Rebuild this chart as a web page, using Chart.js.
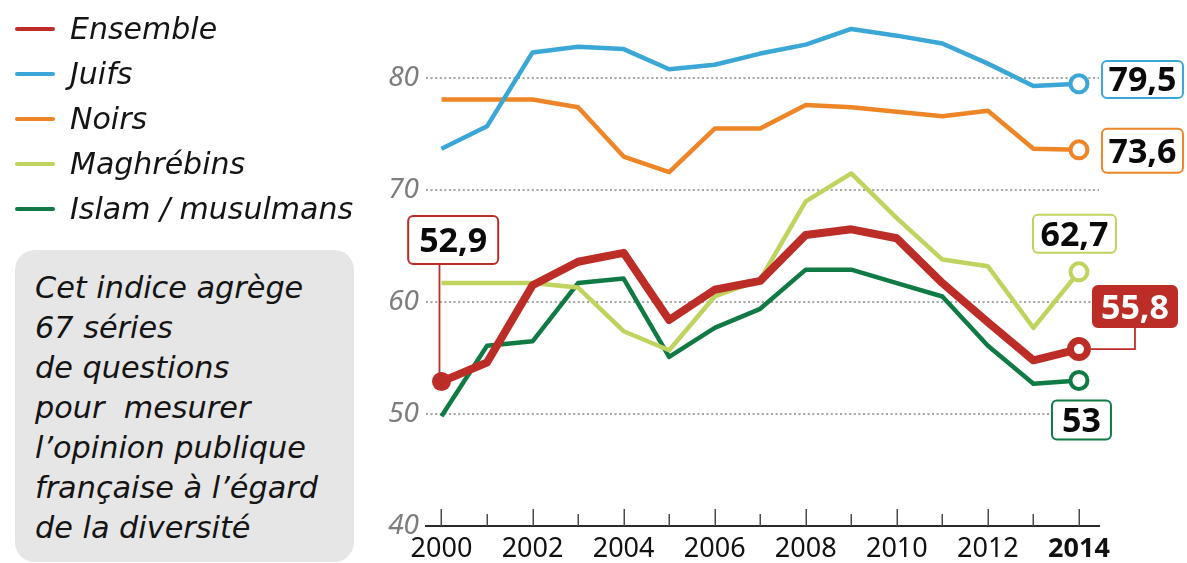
<!DOCTYPE html>
<html>
<head>
<meta charset="utf-8">
<script src="https://cdn.jsdelivr.net/npm/chart.js@4.4.1/dist/chart.umd.min.js"></script>
<style>
  html, body { margin: 0; padding: 0; background: #ffffff; }
  #wrap { position: relative; width: 1187px; height: 563px; overflow: hidden; }
  #chart { position: absolute; left: 0; top: 0; }
  .legtxt { position: absolute; left: 70px; height: 40px; line-height: 40px; font-family: 'DejaVu Sans', sans-serif; font-style: italic; font-size: 30px; color: #141414; white-space: nowrap; }
  .legline { position: absolute; left: 15px; width: 40px; height: 4px; border-radius: 2px; }
  #note { position: absolute; left: 15px; top: 250px; width: 339px; height: 312px; border-radius: 20px; background: #e6e6e6; box-sizing: border-box; padding: 18px 0 0 20px; font-family: 'DejaVu Sans', sans-serif; font-style: italic; font-size: 30.3px; line-height: 40px; color: #141414; white-space: pre; }
</style>
</head>
<body>
<div id="wrap">
  <canvas id="chart" width="1187" height="563"></canvas>
  <div id="legend"></div>
  <div id="note"></div>
</div>
<script>
// ---------- DATA ----------
const years = [2000, 2001, 2002, 2003, 2004, 2005, 2006, 2007, 2008, 2009, 2010, 2011, 2012, 2013, 2014];
const ensemble   = [52.9, 54.6, 61.5, 63.6, 64.4, 58.4, 61.1, 61.9, 66.0, 66.5, 65.7, 61.7, 58.2, 54.8, 55.8];
const juifs      = [73.7, 75.7, 82.3, 82.8, 82.6, 80.8, 81.2, 82.2, 83.0, 84.4, 83.8, 83.1, 81.3, 79.3, 79.5];
const noirs      = [78.1, 78.1, 78.1, 77.4, 73.0, 71.6, 75.5, 75.5, 77.6, 77.4, 77.0, 76.6, 77.1, 73.7, 73.6];
const maghrebins = [61.7, 61.7, 61.7, 61.3, 57.4, 55.7, 60.5, 62.0, 69.0, 71.5, 67.5, 63.8, 63.2, 57.7, 62.7];
const islam      = [49.8, 56.1, 56.5, 61.7, 62.1, 55.1, 57.7, 59.4, 62.9, 62.9, 61.7, 60.5, 56.1, 52.7, 53.0];
const seriesNames = ['Ensemble', 'Juifs', 'Noirs', 'Maghrébins', 'Islam / musulmans'];
const yTickValues = [40, 50, 60, 70, 80];
const xTickValues = [2000, 2002, 2004, 2006, 2008, 2010, 2012, 2014];
const xTickLabels = ['2000', '2002', '2004', '2006', '2008', '2010', '2012', '2014'];
const noteLines = ['Cet indice agrège', '67 séries', 'de questions', 'pour  mesurer', 'l\u2019opinion publique', 'française à l\u2019égard', 'de la diversité'];

// ---------- STYLES ----------
const seriesValues = [ensemble, juifs, noirs, maghrebins, islam];
const seriesColors = ['#bd2d27', '#3ba7d6', '#ee8526', '#bfd45f', '#107a45'];
const seriesWidths = [8, 4.5, 4.5, 4.5, 4.5];

// legend (HTML)
const legendEl = document.getElementById('legend');
seriesNames.forEach((name, i) => {
  const cy = 29 + i * 45;
  const ln = document.createElement('div');
  ln.className = 'legline';
  ln.style.top = (cy - 2) + 'px';
  ln.style.background = seriesColors[i];
  legendEl.appendChild(ln);
  const t = document.createElement('div');
  t.className = 'legtxt';
  t.style.top = (cy - 20) + 'px';
  t.textContent = name;
  legendEl.appendChild(t);
});
document.getElementById('note').textContent = noteLines.join('\n');

const last = years.length - 1;
const datasets = seriesValues.map((vals, di) => ({
  label: seriesNames[di],
  data: years.map((x, i) => ({ x: x, y: vals[i] })),
  borderColor: seriesColors[di],
  borderWidth: seriesWidths[di],
  tension: 0,
  fill: false,
  borderJoinStyle: 'round',
  borderCapStyle: 'butt',
  pointRadius: (ctx) => {
    if (ctx.dataIndex === last) return 8.5;
    if (di === 0 && ctx.dataIndex === 0) return 9.5;
    return 0;
  },
  pointBorderWidth: (ctx) => {
    if (ctx.dataIndex === last) return di === 0 ? 7 : 4;
    return 0;
  },
  pointBackgroundColor: (ctx) => (di === 0 && ctx.dataIndex === 0) ? seriesColors[0] : '#ffffff',
  pointBorderColor: seriesColors[di],
  pointHoverRadius: 0
}));

// tick marks drawn upward from the x axis, positioned by the x scale
const tickMarks = {
  id: 'tickMarks',
  afterDraw(chart) {
    const xs = chart.scales.x;
    const ctx = chart.ctx;
    const base = chart.chartArea.bottom;
    ctx.save();
    ctx.strokeStyle = '#4a4a4a';
    ctx.lineWidth = 1.5;
    years.forEach((yr) => {
      const px = Math.round(xs.getPixelForValue(yr)) + 0.25;
      const len = (yr % 2 === 0) ? 17 : 12;
      ctx.beginPath();
      ctx.moveTo(px, base);
      ctx.lineTo(px, base - len);
      ctx.stroke();
    });
    ctx.restore();
  }
};

function rrect(ctx, x, y, w, h, r) {
  ctx.beginPath();
  ctx.moveTo(x + r, y);
  ctx.lineTo(x + w - r, y);
  ctx.arcTo(x + w, y, x + w, y + r, r);
  ctx.lineTo(x + w, y + h - r);
  ctx.arcTo(x + w, y + h, x + w - r, y + h, r);
  ctx.lineTo(x + r, y + h);
  ctx.arcTo(x, y + h, x, y + h - r, r);
  ctx.lineTo(x, y + r);
  ctx.arcTo(x, y, x + r, y, r);
  ctx.closePath();
}

// value callouts, anchored to the library's point positions
const callouts = {
  id: 'callouts',
  afterDatasetsDraw(chart) {
    const ctx = chart.ctx;
    const specs = [
      { ds: 1, i: last, dx: 63.5, dy: -4.3, w: 81, h: 37, fill: '#fff' },
      { ds: 2, i: last, dx: 63.5, dy: 1, w: 81, h: 44, fill: '#fff' },
      { ds: 3, i: last, dx: -4.5, dy: -38, w: 83, h: 38, fill: '#fff' },
      { ds: 0, i: last, dx: 56, dy: -42.6, w: 84, h: 41, fill: seriesColors[0], textColor: '#fff', link: 'elbow' },
      { ds: 4, i: last, dx: 2.5, dy: 39.5, w: 59, h: 39, fill: '#fff' },
      { ds: 0, i: 0, dx: 11.7, dy: -141.6, w: 90, h: 48, fill: '#fff', link: 'vertical' }
    ];
    ctx.save();
    specs.forEach((s) => {
      const el = chart.getDatasetMeta(s.ds).data[s.i];
      const px = el.x, py = el.y;
      const cx = px + s.dx, cy = py + s.dy;
      const col = seriesColors[s.ds];
      ctx.strokeStyle = col;
      ctx.lineWidth = 1.8;
      if (s.link === 'elbow') {
        ctx.beginPath();
        ctx.moveTo(px + 12, py);
        ctx.lineTo(cx, py);
        ctx.lineTo(cx, cy + s.h / 2);
        ctx.stroke();
      } else if (s.link === 'vertical') {
        ctx.beginPath();
        ctx.moveTo(px - 2, cy + s.h / 2);
        ctx.lineTo(px - 2, py - 6);
        ctx.stroke();
      }
      rrect(ctx, cx - s.w / 2, cy - s.h / 2, s.w, s.h, 5);
      ctx.fillStyle = s.fill;
      ctx.fill();
      ctx.lineWidth = 2;
      ctx.strokeStyle = col;
      ctx.stroke();
      const v = seriesValues[s.ds][s.i];
      const txt = String(v).replace('.', ',');
      ctx.fillStyle = s.textColor || '#0a0a0a';
      ctx.font = 'bold 34px "Noto Sans", sans-serif';
      ctx.textAlign = 'center';
      ctx.textBaseline = 'alphabetic';
      ctx.fillText(txt, cx, cy + 12);
    });
    ctx.restore();
  }
};

new Chart(document.getElementById('chart'), {
  type: 'line',
  data: { datasets: datasets },
  options: {
    responsive: false,
    devicePixelRatio: 1,
    animation: false,
    events: [],
    layout: { padding: { left: 0, right: 88, top: 0, bottom: 0 } },
    plugins: { legend: { display: false }, tooltip: { enabled: false } },
    scales: {
      x: {
        type: 'linear',
        min: 1999.66,
        max: 2014.44,
        afterFit: (scale) => { scale.height = 37; scale.paddingLeft = 0; scale.paddingRight = 0; },
        afterBuildTicks: (scale) => { scale.ticks = xTickValues.map((v) => ({ value: v })); },
        grid: { display: false, drawTicks: false },
        border: { display: true, color: '#2a2a2a', width: 2 },
        ticks: {
          padding: 7,
          color: '#111111',
          maxRotation: 0,
          autoSkip: false,
          callback: (value) => xTickLabels[xTickValues.indexOf(value)],
          font: (ctx) => ({ family: '"Noto Sans", sans-serif', size: 27, weight: (ctx.tick && ctx.tick.value === 2014) ? 'bold' : 'normal' })
        }
      },
      y: {
        min: 40,
        max: 85.6,
        afterFit: (scale) => { scale.width = 426; scale.paddingTop = 0; scale.paddingBottom = 0; },
        afterBuildTicks: (scale) => { scale.ticks = yTickValues.map((v) => ({ value: v })); },
        grid: {
          drawTicks: false,
          lineWidth: 2,
          color: (ctx) => (ctx.tick && ctx.tick.value === 40) ? 'rgba(0,0,0,0)' : '#a3a3a3'
        },
        border: { display: false, dash: [2, 2.6] },
        ticks: {
          padding: 7,
          color: '#7d7d7d',
          callback: (value) => String(value),
          font: { family: '"Noto Sans", sans-serif', size: 28, style: 'italic' }
        }
      }
    }
  },
  plugins: [tickMarks, callouts]
});
</script>
</body>
</html>
